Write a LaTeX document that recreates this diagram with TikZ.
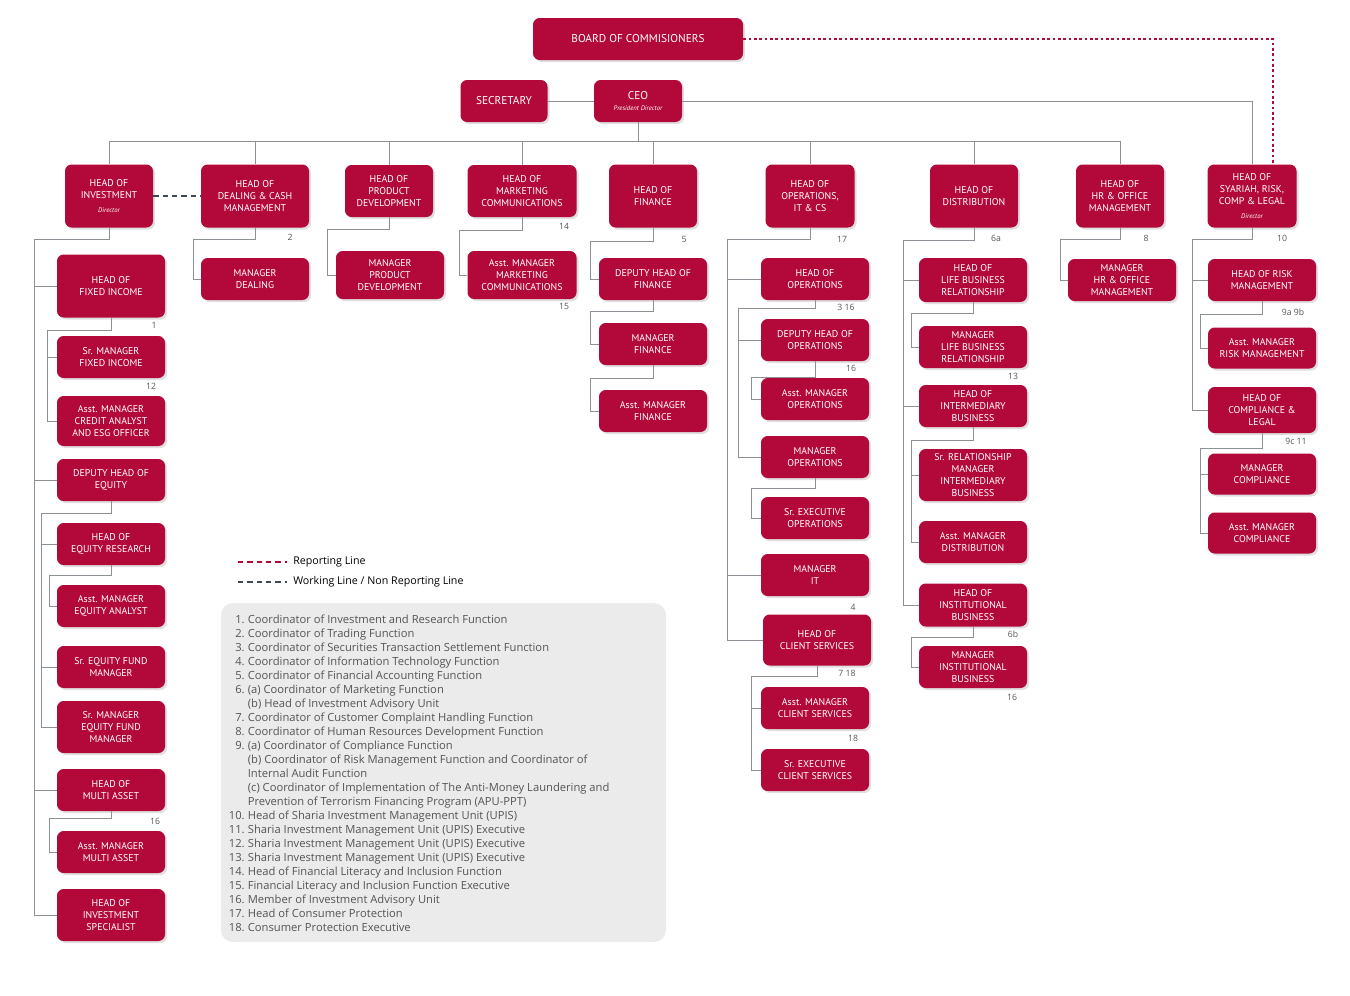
\documentclass[tikz,border=0pt]{standalone}
\usepackage{fontspec}
\setmainfont{Open Sans}
\newfontfamily\boxfont{PT Sans}
\usetikzlibrary{shadows}
\definecolor{orgred}{HTML}{B3093A}
\definecolor{linegray}{HTML}{8C9196}
\definecolor{workgray}{HTML}{3C4A58}
\definecolor{notegray}{HTML}{EBEBEB}
\definecolor{notetext}{HTML}{555555}

\tikzset{
  box/.style={fill=orgred, rounded corners=5pt, text=white, align=center, inner sep=1pt,
    font=\boxfont\fontsize{7.4}{9}\selectfont,
    drop shadow={shadow xshift=1.5pt, shadow yshift=-1.5pt, opacity=.25}},
  sz/.style 2 args={minimum width=#1*0.75pt, minimum height=#2*0.75pt},
  conn/.style={draw=linegray, line width=0.6pt},
  num/.style={font=\fontsize{6.5}{7}\selectfont, text=notetext, inner sep=0pt},
  reporting/.style={draw=orgred, line width=1.3pt, dash pattern=on 2pt off 2pt},
  working/.style={draw=workgray, line width=1.6pt, dash pattern=on 4pt off 3pt}
}
\newcommand\dirfont{\boxfont\itshape\fontsize{5}{6}\selectfont}

% parent, trunk x, bend y, last child
\newcommand\branch[4]{\draw[conn] (#1.south) |- (#2,#3) |- (#4.west);}
% trunk x, list of other children
\newcommand\stubs[2]{\foreach \c in {#2}{\draw[conn] (\c.west -| #1,0) -- (\c.west);}}

\begin{document}
\begin{tikzpicture}[x=0.75pt, y=-0.75pt]
  \useasboundingbox (0,0) rectangle (1350,996);

  % top
  \node[box, sz={210}{42}] (board) at (638,39) {\fontsize{8.5}{10}\selectfont BOARD OF COMMISIONERS};
  \node[box, sz={87}{42}] (sec) at (504,101) {\fontsize{8.5}{10}\selectfont SECRETARY};
  \node[box, sz={88}{42}] (ceo) at (638,101) {\fontsize{8.5}{10}\selectfont CEO\\[-1pt]{\dirfont President Director}};

  % heads
  \node[box, sz={88}{63}] (inv) at (109,196) {HEAD OF\\INVESTMENT\\[2pt]{\dirfont Director}};
  \node[box, sz={108}{63}] (deal) at (255,196) {HEAD OF\\DEALING \& CASH\\MANAGEMENT};
  \node[box, sz={88}{52}] (prod) at (389,191) {HEAD OF\\PRODUCT\\DEVELOPMENT};
  \node[box, sz={109}{52}] (mkt) at (522,191) {HEAD OF\\MARKETING\\COMMUNICATIONS};
  \node[box, sz={88}{63}] (fin) at (653,196) {HEAD OF\\FINANCE};
  \node[box, sz={89}{63}] (ops) at (810,196) {HEAD OF\\OPERATIONS,\\IT \& CS};
  \node[box, sz={88}{63}] (dist) at (974,196) {HEAD OF\\DISTRIBUTION};
  \node[box, sz={88}{63}] (hr) at (1120,196) {HEAD OF\\HR \& OFFICE\\MANAGEMENT};
  \node[box, sz={89}{63}] (syr) at (1252,196) {HEAD OF\\SYARIAH, RISK,\\COMP \& LEGAL\\[2pt]{\dirfont Director}};

  \draw[conn] (sec) -- (ceo);
  \draw[conn] (ceo.south) -- (ceo.south |- 0,141);
  \draw[conn] (inv.north |- 0,141) -- (hr.north |- 0,141);
  \foreach \h in {inv,deal,prod,mkt,fin,ops,dist,hr}{\draw[conn] (\h.north) -- (\h.north |- 0,141);}
  \draw[conn] (ceo.east) -| (syr.north);
  \draw[reporting] (board.east) -| ([xshift=21*0.75pt]syr.north);
  \draw[working] (inv.east) -- (deal.west);

  % investment
  \node[box, sz={108}{63}] (fixinc) at (111,286) {HEAD OF\\FIXED INCOME};
  \node[box, sz={108}{42}] (srfix) at (111,357) {Sr. MANAGER\\FIXED INCOME};
  \node[box, sz={108}{50}] (credit) at (111,421) {Asst. MANAGER\\CREDIT ANALYST\\AND ESG OFFICER};
  \node[box, sz={108}{42}] (depeq) at (111,480) {DEPUTY HEAD OF\\EQUITY};
  \node[box, sz={108}{42}] (eqres) at (111,544) {HEAD OF\\EQUITY RESEARCH};
  \node[box, sz={108}{42}] (eqan) at (111,606) {Asst. MANAGER\\EQUITY ANALYST};
  \node[box, sz={108}{42}] (srefm) at (111,667) {Sr. EQUITY FUND\\MANAGER};
  \node[box, sz={108}{52}] (smefm) at (111,727) {Sr. MANAGER\\EQUITY FUND\\MANAGER};
  \node[box, sz={108}{42}] (multi) at (111,790) {HEAD OF\\MULTI ASSET};
  \node[box, sz={108}{42}] (amulti) at (111,852) {Asst. MANAGER\\MULTI ASSET};
  \node[box, sz={108}{52}] (spec) at (111,915) {HEAD OF\\INVESTMENT\\SPECIALIST};
  \branch{inv}{34}{239}{spec} \stubs{34}{fixinc,depeq,multi}
  \branch{fixinc}{47}{330}{credit} \stubs{47}{srfix}
  \branch{depeq}{41}{513}{smefm} \stubs{41}{eqres,srefm}
  \branch{eqres}{49}{575}{eqan}
  \branch{multi}{49}{818}{amulti}

  % dealing, product, marketing, hr
  \node[box, sz={108}{42}] (mdeal) at (255,279) {MANAGER\\DEALING};
  \node[box, sz={108}{48}] (mprod) at (390,275) {MANAGER\\PRODUCT\\DEVELOPMENT};
  \node[box, sz={109}{48}] (amkt) at (522,275) {Asst. MANAGER\\MARKETING\\COMMUNICATIONS};
  \node[box, sz={108}{42}] (mhr) at (1122,280) {MANAGER\\HR \& OFFICE\\MANAGEMENT};
  \branch{deal}{193}{239}{mdeal}
  \branch{prod}{327}{229}{mprod}
  \branch{mkt}{459}{230}{amkt}
  \branch{hr}{1060}{239}{mhr}

  % finance
  \node[box, sz={108}{42}] (dfin) at (653,279) {DEPUTY HEAD OF\\FINANCE};
  \node[box, sz={108}{42}] (mfin) at (653,344) {MANAGER\\FINANCE};
  \node[box, sz={108}{42}] (afin) at (653,411) {Asst. MANAGER\\FINANCE};
  \branch{fin}{590}{241}{dfin}
  \branch{dfin}{590}{311}{mfin}
  \branch{mfin}{590}{378}{afin}

  % operations
  \node[box, sz={108}{42}] (hops) at (815,279) {HEAD OF\\OPERATIONS};
  \node[box, sz={108}{42}] (dops) at (815,340) {DEPUTY HEAD OF\\OPERATIONS};
  \node[box, sz={108}{42}] (aops) at (815,399) {Asst. MANAGER\\OPERATIONS};
  \node[box, sz={108}{42}] (mops) at (815,457) {MANAGER\\OPERATIONS};
  \node[box, sz={108}{42}] (sops) at (815,518) {Sr. EXECUTIVE\\OPERATIONS};
  \node[box, sz={108}{42}] (mit) at (815,575) {MANAGER\\IT};
  \node[box, sz={108}{51}] (hcs) at (817,640) {HEAD OF\\CLIENT SERVICES};
  \node[box, sz={108}{42}] (acs) at (815,708) {Asst. MANAGER\\CLIENT SERVICES};
  \node[box, sz={108}{42}] (scs) at (815,770) {Sr. EXECUTIVE\\CLIENT SERVICES};
  \branch{ops}{727}{239}{hcs} \stubs{727}{hops,mit}
  \branch{hops}{738}{308}{mops} \stubs{738}{dops}
  \branch{dops}{751}{377}{aops}
  \branch{mops}{751}{488}{sops}
  \branch{hcs}{751}{676}{scs} \stubs{751}{acs}

  % distribution
  \node[box, sz={108}{44}] (hlife) at (973,280) {HEAD OF\\LIFE BUSINESS\\RELATIONSHIP};
  \node[box, sz={108}{42}] (mlife) at (973,347) {MANAGER\\LIFE BUSINESS\\RELATIONSHIP};
  \node[box, sz={108}{42}] (hint) at (973,406) {HEAD OF\\INTERMEDIARY\\BUSINESS};
  \node[box, sz={108}{52}] (srint) at (973,475) {Sr. RELATIONSHIP\\MANAGER\\INTERMEDIARY\\BUSINESS};
  \node[box, sz={108}{42}] (adist) at (973,542) {Asst. MANAGER\\DISTRIBUTION};
  \node[box, sz={108}{43}] (hinst) at (973,605) {HEAD OF\\INSTITUTIONAL\\BUSINESS};
  \node[box, sz={108}{42}] (minst) at (973,667) {MANAGER\\INSTITUTIONAL\\BUSINESS};
  \branch{dist}{903}{240}{hinst} \stubs{903}{hlife,hint}
  \branch{hlife}{911}{313}{mlife}
  \branch{hint}{911}{440}{adist} \stubs{911}{srint}
  \branch{hinst}{911}{637}{minst}

  % syariah
  \node[box, sz={108}{42}] (hrisk) at (1262,280) {HEAD OF RISK\\MANAGEMENT};
  \node[box, sz={108}{41}] (arisk) at (1262,348) {Asst. MANAGER\\RISK MANAGEMENT};
  \node[box, sz={108}{46}] (hcomp) at (1262,410) {HEAD OF\\COMPLIANCE \&\\LEGAL};
  \node[box, sz={108}{41}] (mcomp) at (1262,474) {MANAGER\\COMPLIANCE};
  \node[box, sz={108}{41}] (acomp) at (1262,533) {Asst. MANAGER\\COMPLIANCE};
  \branch{syr}{1192}{239}{hcomp} \stubs{1192}{hrisk}
  \branch{hrisk}{1200}{314}{arisk}
  \branch{hcomp}{1200}{448}{acomp} \stubs{1200}{mcomp}

  % note numbers
  \node[num] (n2) at (290,237) {2};
  \node[num] (n14) at (564,226) {14};
  \node[num] (n15) at (564,306) {15};
  \node[num] (n5) at (684,239) {5};
  \node[num] (n17) at (842,239) {17};
  \node[num] (n6a) at (996,238) {6a};
  \node[num] (n8) at (1146,238) {8};
  \node[num] (n10) at (1282,238) {10};
  \node[num] (n1) at (154,325) {1};
  \node[num] (n12) at (151,386) {12};
  \node[num] (n16a) at (155,821) {16};
  \node[num] (n316) at (846,307) {3 16};
  \node[num] (n16b) at (851,368) {16};
  \node[num] (n4) at (853,607) {4};
  \node[num] (n718) at (847,673) {7 18};
  \node[num] (n18) at (853,738) {18};
  \node[num] (n13) at (1013,376) {13};
  \node[num] (n6b) at (1013,634) {6b};
  \node[num] (n16c) at (1012,697) {16};
  \node[num] (n9ab) at (1293,312) {9a 9b};
  \node[num] (n9c) at (1296,441) {9c 11};

  % legend
  \coordinate (rl1) at (238,562); \coordinate (rl2) at (287,562);
  \coordinate (wl1) at (238,582); \coordinate (wl2) at (287,582);
  \draw[reporting, line width=1pt, dash pattern=on 4pt off 3pt] (rl1) -- (rl2);
  \draw[working, line width=1.2pt] (wl1) -- (wl2);
  \node[anchor=west, inner sep=0pt, font=\fontsize{8}{9}\selectfont] (rlab) at (293,562) {Reporting Line};
  \node[anchor=west, inner sep=0pt, font=\fontsize{8}{9}\selectfont] (wlab) at (293,582) {Working Line / Non Reporting Line};

  % notes
  \fill[notegray, rounded corners=9pt] (221,603) rectangle (666,942);
  \node[anchor=north west, inner sep=0pt, text=notetext, font=\fontsize{8.4}{10.5}\selectfont] (notes) at (227,613) {%
    \setlength\tabcolsep{1.2pt}%
    \begin{tabular}{rl}
    1. & Coordinator of Investment and Research Function\\
    2. & Coordinator of Trading Function\\
    3. & Coordinator of Securities Transaction Settlement Function\\
    4. & Coordinator of Information Technology Function\\
    5. & Coordinator of Financial Accounting Function\\
    6. & (a) Coordinator of Marketing Function\\
       & (b) Head of Investment Advisory Unit\\
    7. & Coordinator of Customer Complaint Handling Function\\
    8. & Coordinator of Human Resources Development Function\\
    9. & (a) Coordinator of Compliance Function\\
       & (b) Coordinator of Risk Management Function and Coordinator of\\
       & Internal Audit Function\\
       & (c) Coordinator of Implementation of The Anti-Money Laundering and\\
       & Prevention of Terrorism Financing Program (APU-PPT)\\
    10. & Head of Sharia Investment Management Unit (UPIS)\\
    11. & Sharia Investment Management Unit (UPIS) Executive\\
    12. & Sharia Investment Management Unit (UPIS) Executive\\
    13. & Sharia Investment Management Unit (UPIS) Executive\\
    14. & Head of Financial Literacy and Inclusion Function\\
    15. & Financial Literacy and Inclusion Function Executive\\
    16. & Member of Investment Advisory Unit\\
    17. & Head of Consumer Protection\\
    18. & Consumer Protection Executive
    \end{tabular}};
\end{tikzpicture}
\end{document}
